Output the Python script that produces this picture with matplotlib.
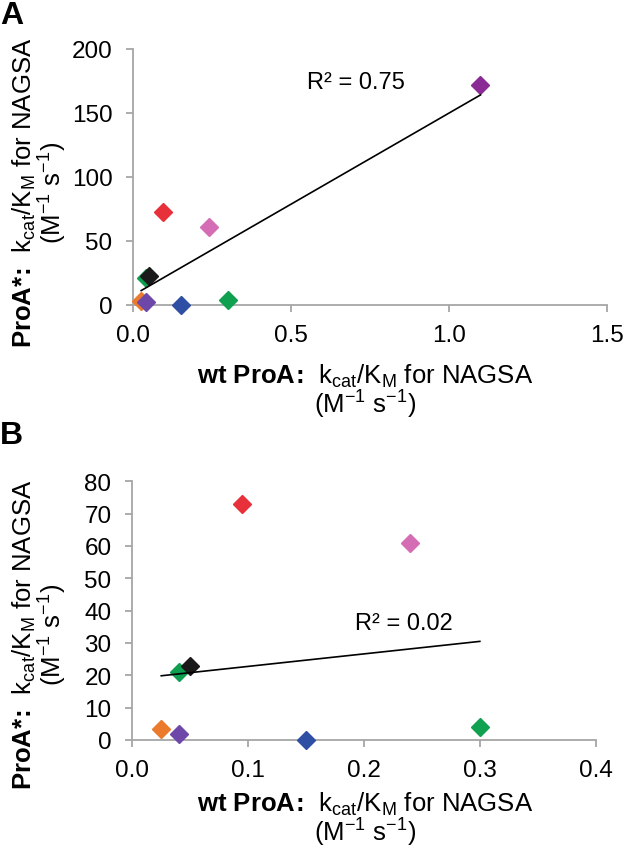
import numpy as np
import matplotlib
matplotlib.use("Agg")
import matplotlib.pyplot as plt

plt.rcParams['font.family'] = ['Liberation Sans', 'DejaVu Sans']
plt.rcParams['mathtext.fontset'] = 'custom'
plt.rcParams['mathtext.rm'] = 'Liberation Sans'
plt.rcParams['mathtext.it'] = 'Liberation Sans:italic'
plt.rcParams['mathtext.bf'] = 'Liberation Sans:bold'

# Data: wt ProA kcat/KM (x) vs ProA* kcat/KM (y)
wt_kcat = [0.025, 0.04, 0.04, 0.05, 0.095, 0.24, 0.15, 0.30, 1.10]
proA_star = [3.5, 2.0, 21.0, 23.0, 73.0, 61.0, 0.0, 4.0, 172.0]
colors = ['#ec7a2c', '#6d48a8', '#0f9e50', '#1a1a1a', '#e8303a',
          '#d46db3', '#2f4fa5', '#10a150', '#8a2a94']

W, H = 633, 854
fig = plt.figure(figsize=(W / 100, H / 100), dpi=100)

grey = '#a6a6a6'


def make_panel(ax_rect, xs, ys, cols, xlim, ylim, xticks, yticks, xfmt, r2_pos):
    ax = fig.add_axes(ax_rect)
    for xv, yv, c in zip(xs, ys, cols):
        ax.plot(xv, yv, marker='D', ms=9.5, color=c, mec=c, ls='none',
                clip_on=False, zorder=3)
    xs = np.array(xs)
    ys = np.array(ys)
    p = np.polyfit(xs, ys, 1)
    xl = np.array([xs.min(), xs.max()])
    ax.plot(xl, np.polyval(p, xl), color='black', lw=1.2, zorder=4)
    pred = np.polyval(p, xs)
    r2 = 1 - np.sum((ys - pred) ** 2) / np.sum((ys - ys.mean()) ** 2)
    ax.text(r2_pos[0], r2_pos[1], f"R² = {r2:.2f}", fontsize=17, va='center', ha='left')
    ax.set_xlim(*xlim)
    ax.set_ylim(*ylim)
    ax.set_xticks(xticks)
    ax.set_yticks(yticks)
    ax.set_xticklabels([xfmt.format(t) for t in xticks])
    for s in ['top', 'right']:
        ax.spines[s].set_visible(False)
    for s in ['left', 'bottom']:
        ax.spines[s].set_color(grey)
        ax.spines[s].set_linewidth(1.3)
    ax.tick_params(axis='both', direction='out', color=grey, width=1.3, length=5,
                   labelsize=17.5)
    ax.tick_params(axis='y', pad=10)
    ax.tick_params(axis='x', pad=9)
    return ax


def rect(x0, x1, ytop, ybot):
    return [x0 / W, 1 - ybot / H, (x1 - x0) / W, (ybot - ytop) / H]


# Panel A
axA = make_panel(rect(133.3, 606.7, 50, 306), wt_kcat, proA_star, colors,
                 (0, 1.5), (0, 200), [0.0, 0.5, 1.0, 1.5], [0, 50, 100, 150, 200],
                 "{:.1f}", (0.55, 174))

# Panel B (without the outlier)
axB = make_panel(rect(132.3, 595.7, 482.3, 741), wt_kcat[:8], proA_star[:8], colors[:8],
                 (0, 0.4), (0, 80), [0.0, 0.1, 0.2, 0.3, 0.4], list(range(0, 81, 10)),
                 "{:.1f}", (0.192, 36.2))

unit = r"(M$^{\mathrm{-1}}$ s$^{\mathrm{-1}}$)"
ylab = r"$\mathbf{ProA{*}\!{:}\!}$  k$_{\mathrm{cat}}$/K$_{\mathrm{M}}$ for NAGSA" + "\n" + unit
xlab = r"$\mathbf{wt\ ProA\!{:}\!}$  k$_{\mathrm{cat}}$/K$_{\mathrm{M}}$ for NAGSA" + "\n" + unit

for ylab_y, xlab_y in [(193, 392), (635, 820)]:
    fig.text(40 / W, 1 - ylab_y / H, ylab, rotation=90, ha='center', va='center',
             fontsize=18.5, multialignment='center', linespacing=0.95)
    fig.text(365 / W, 1 - xlab_y / H, xlab, ha='center', va='center',
             fontsize=18.5, multialignment='center', linespacing=0.95)

fig.text(0 / W, 1 - 1 / H, "A", fontsize=23, fontweight='bold', ha='left', va='top')
fig.text(0 / W, 1 - 421 / H, "B", fontsize=23, fontweight='bold', ha='left', va='top')

fig.savefig("out.png", dpi=100)
